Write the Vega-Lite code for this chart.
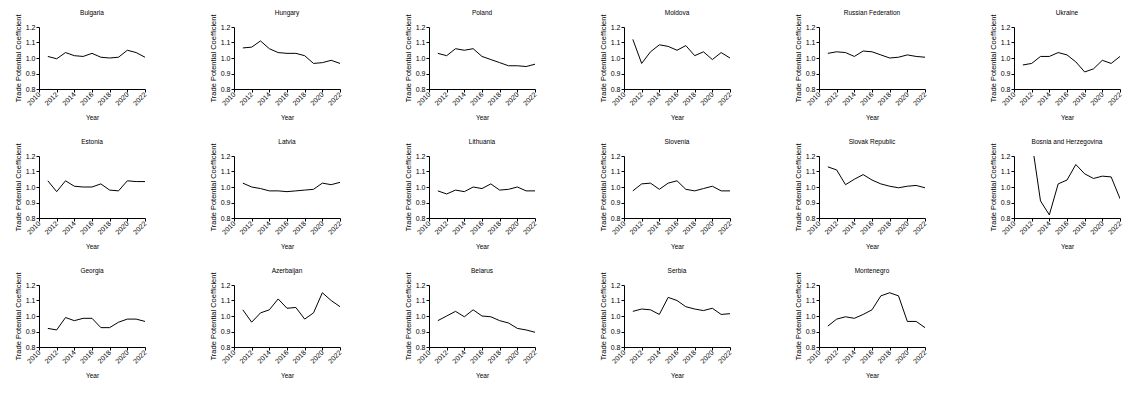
{
  "$schema": "https://vega.github.io/schema/vega-lite/v6.json",
  "padding": {"left": 14, "top": 9, "right": 5, "bottom": 5},
  "background": "white",
  "datasets": {
    "d": [
      {"country": "Bulgaria", "year": 2011, "v": 1.01}, {"country": "Bulgaria", "year": 2012, "v": 0.995}, {"country": "Bulgaria", "year": 2013, "v": 1.035}, {"country": "Bulgaria", "year": 2014, "v": 1.015}, {"country": "Bulgaria", "year": 2015, "v": 1.01}, {"country": "Bulgaria", "year": 2016, "v": 1.03}, {"country": "Bulgaria", "year": 2017, "v": 1.005}, {"country": "Bulgaria", "year": 2018, "v": 1.0}, {"country": "Bulgaria", "year": 2019, "v": 1.005}, {"country": "Bulgaria", "year": 2020, "v": 1.05}, {"country": "Bulgaria", "year": 2021, "v": 1.035}, {"country": "Bulgaria", "year": 2022, "v": 1.005},
      {"country": "Hungary", "year": 2011, "v": 1.065}, {"country": "Hungary", "year": 2012, "v": 1.07}, {"country": "Hungary", "year": 2013, "v": 1.11}, {"country": "Hungary", "year": 2014, "v": 1.06}, {"country": "Hungary", "year": 2015, "v": 1.035}, {"country": "Hungary", "year": 2016, "v": 1.03}, {"country": "Hungary", "year": 2017, "v": 1.03}, {"country": "Hungary", "year": 2018, "v": 1.015}, {"country": "Hungary", "year": 2019, "v": 0.965}, {"country": "Hungary", "year": 2020, "v": 0.97}, {"country": "Hungary", "year": 2021, "v": 0.985}, {"country": "Hungary", "year": 2022, "v": 0.965},
      {"country": "Poland", "year": 2011, "v": 1.03}, {"country": "Poland", "year": 2012, "v": 1.015}, {"country": "Poland", "year": 2013, "v": 1.06}, {"country": "Poland", "year": 2014, "v": 1.05}, {"country": "Poland", "year": 2015, "v": 1.06}, {"country": "Poland", "year": 2016, "v": 1.01}, {"country": "Poland", "year": 2017, "v": 0.99}, {"country": "Poland", "year": 2018, "v": 0.97}, {"country": "Poland", "year": 2019, "v": 0.95}, {"country": "Poland", "year": 2020, "v": 0.95}, {"country": "Poland", "year": 2021, "v": 0.945}, {"country": "Poland", "year": 2022, "v": 0.96},
      {"country": "Moldova", "year": 2011, "v": 1.12}, {"country": "Moldova", "year": 2012, "v": 0.965}, {"country": "Moldova", "year": 2013, "v": 1.04}, {"country": "Moldova", "year": 2014, "v": 1.085}, {"country": "Moldova", "year": 2015, "v": 1.075}, {"country": "Moldova", "year": 2016, "v": 1.05}, {"country": "Moldova", "year": 2017, "v": 1.08}, {"country": "Moldova", "year": 2018, "v": 1.015}, {"country": "Moldova", "year": 2019, "v": 1.04}, {"country": "Moldova", "year": 2020, "v": 0.99}, {"country": "Moldova", "year": 2021, "v": 1.035}, {"country": "Moldova", "year": 2022, "v": 1.0},
      {"country": "Russian Federation", "year": 2011, "v": 1.03}, {"country": "Russian Federation", "year": 2012, "v": 1.04}, {"country": "Russian Federation", "year": 2013, "v": 1.035}, {"country": "Russian Federation", "year": 2014, "v": 1.01}, {"country": "Russian Federation", "year": 2015, "v": 1.045}, {"country": "Russian Federation", "year": 2016, "v": 1.04}, {"country": "Russian Federation", "year": 2017, "v": 1.02}, {"country": "Russian Federation", "year": 2018, "v": 1.0}, {"country": "Russian Federation", "year": 2019, "v": 1.005}, {"country": "Russian Federation", "year": 2020, "v": 1.02}, {"country": "Russian Federation", "year": 2021, "v": 1.01}, {"country": "Russian Federation", "year": 2022, "v": 1.005},
      {"country": "Ukraine", "year": 2011, "v": 0.955}, {"country": "Ukraine", "year": 2012, "v": 0.965}, {"country": "Ukraine", "year": 2013, "v": 1.01}, {"country": "Ukraine", "year": 2014, "v": 1.01}, {"country": "Ukraine", "year": 2015, "v": 1.035}, {"country": "Ukraine", "year": 2016, "v": 1.02}, {"country": "Ukraine", "year": 2017, "v": 0.975}, {"country": "Ukraine", "year": 2018, "v": 0.91}, {"country": "Ukraine", "year": 2019, "v": 0.93}, {"country": "Ukraine", "year": 2020, "v": 0.985}, {"country": "Ukraine", "year": 2021, "v": 0.965}, {"country": "Ukraine", "year": 2022, "v": 1.01},
      {"country": "Estonia", "year": 2011, "v": 1.04}, {"country": "Estonia", "year": 2012, "v": 0.97}, {"country": "Estonia", "year": 2013, "v": 1.04}, {"country": "Estonia", "year": 2014, "v": 1.005}, {"country": "Estonia", "year": 2015, "v": 1.0}, {"country": "Estonia", "year": 2016, "v": 1.0}, {"country": "Estonia", "year": 2017, "v": 1.02}, {"country": "Estonia", "year": 2018, "v": 0.98}, {"country": "Estonia", "year": 2019, "v": 0.975}, {"country": "Estonia", "year": 2020, "v": 1.04}, {"country": "Estonia", "year": 2021, "v": 1.035}, {"country": "Estonia", "year": 2022, "v": 1.035},
      {"country": "Latvia", "year": 2011, "v": 1.025}, {"country": "Latvia", "year": 2012, "v": 1.0}, {"country": "Latvia", "year": 2013, "v": 0.99}, {"country": "Latvia", "year": 2014, "v": 0.975}, {"country": "Latvia", "year": 2015, "v": 0.975}, {"country": "Latvia", "year": 2016, "v": 0.97}, {"country": "Latvia", "year": 2017, "v": 0.975}, {"country": "Latvia", "year": 2018, "v": 0.98}, {"country": "Latvia", "year": 2019, "v": 0.985}, {"country": "Latvia", "year": 2020, "v": 1.025}, {"country": "Latvia", "year": 2021, "v": 1.015}, {"country": "Latvia", "year": 2022, "v": 1.03},
      {"country": "Lithuania", "year": 2011, "v": 0.975}, {"country": "Lithuania", "year": 2012, "v": 0.955}, {"country": "Lithuania", "year": 2013, "v": 0.98}, {"country": "Lithuania", "year": 2014, "v": 0.97}, {"country": "Lithuania", "year": 2015, "v": 1.0}, {"country": "Lithuania", "year": 2016, "v": 0.99}, {"country": "Lithuania", "year": 2017, "v": 1.02}, {"country": "Lithuania", "year": 2018, "v": 0.98}, {"country": "Lithuania", "year": 2019, "v": 0.985}, {"country": "Lithuania", "year": 2020, "v": 1.0}, {"country": "Lithuania", "year": 2021, "v": 0.975}, {"country": "Lithuania", "year": 2022, "v": 0.975},
      {"country": "Slovenia", "year": 2011, "v": 0.975}, {"country": "Slovenia", "year": 2012, "v": 1.02}, {"country": "Slovenia", "year": 2013, "v": 1.025}, {"country": "Slovenia", "year": 2014, "v": 0.985}, {"country": "Slovenia", "year": 2015, "v": 1.025}, {"country": "Slovenia", "year": 2016, "v": 1.04}, {"country": "Slovenia", "year": 2017, "v": 0.985}, {"country": "Slovenia", "year": 2018, "v": 0.975}, {"country": "Slovenia", "year": 2019, "v": 0.99}, {"country": "Slovenia", "year": 2020, "v": 1.005}, {"country": "Slovenia", "year": 2021, "v": 0.975}, {"country": "Slovenia", "year": 2022, "v": 0.975},
      {"country": "Slovak Republic", "year": 2011, "v": 1.13}, {"country": "Slovak Republic", "year": 2012, "v": 1.11}, {"country": "Slovak Republic", "year": 2013, "v": 1.015}, {"country": "Slovak Republic", "year": 2014, "v": 1.05}, {"country": "Slovak Republic", "year": 2015, "v": 1.08}, {"country": "Slovak Republic", "year": 2016, "v": 1.045}, {"country": "Slovak Republic", "year": 2017, "v": 1.02}, {"country": "Slovak Republic", "year": 2018, "v": 1.005}, {"country": "Slovak Republic", "year": 2019, "v": 0.995}, {"country": "Slovak Republic", "year": 2020, "v": 1.005}, {"country": "Slovak Republic", "year": 2021, "v": 1.01}, {"country": "Slovak Republic", "year": 2022, "v": 0.995},
      {"country": "Bosnia and Herzegovina", "year": 2011, "v": 1.32}, {"country": "Bosnia and Herzegovina", "year": 2012, "v": 1.3}, {"country": "Bosnia and Herzegovina", "year": 2013, "v": 0.91}, {"country": "Bosnia and Herzegovina", "year": 2014, "v": 0.82}, {"country": "Bosnia and Herzegovina", "year": 2015, "v": 1.02}, {"country": "Bosnia and Herzegovina", "year": 2016, "v": 1.045}, {"country": "Bosnia and Herzegovina", "year": 2017, "v": 1.145}, {"country": "Bosnia and Herzegovina", "year": 2018, "v": 1.085}, {"country": "Bosnia and Herzegovina", "year": 2019, "v": 1.055}, {"country": "Bosnia and Herzegovina", "year": 2020, "v": 1.07}, {"country": "Bosnia and Herzegovina", "year": 2021, "v": 1.065}, {"country": "Bosnia and Herzegovina", "year": 2022, "v": 0.925},
      {"country": "Georgia", "year": 2011, "v": 0.92}, {"country": "Georgia", "year": 2012, "v": 0.91}, {"country": "Georgia", "year": 2013, "v": 0.99}, {"country": "Georgia", "year": 2014, "v": 0.97}, {"country": "Georgia", "year": 2015, "v": 0.985}, {"country": "Georgia", "year": 2016, "v": 0.985}, {"country": "Georgia", "year": 2017, "v": 0.925}, {"country": "Georgia", "year": 2018, "v": 0.925}, {"country": "Georgia", "year": 2019, "v": 0.96}, {"country": "Georgia", "year": 2020, "v": 0.98}, {"country": "Georgia", "year": 2021, "v": 0.98}, {"country": "Georgia", "year": 2022, "v": 0.965},
      {"country": "Azerbaijan", "year": 2011, "v": 1.04}, {"country": "Azerbaijan", "year": 2012, "v": 0.96}, {"country": "Azerbaijan", "year": 2013, "v": 1.02}, {"country": "Azerbaijan", "year": 2014, "v": 1.04}, {"country": "Azerbaijan", "year": 2015, "v": 1.11}, {"country": "Azerbaijan", "year": 2016, "v": 1.05}, {"country": "Azerbaijan", "year": 2017, "v": 1.055}, {"country": "Azerbaijan", "year": 2018, "v": 0.98}, {"country": "Azerbaijan", "year": 2019, "v": 1.02}, {"country": "Azerbaijan", "year": 2020, "v": 1.15}, {"country": "Azerbaijan", "year": 2021, "v": 1.1}, {"country": "Azerbaijan", "year": 2022, "v": 1.06},
      {"country": "Belarus", "year": 2011, "v": 0.97}, {"country": "Belarus", "year": 2012, "v": 1.0}, {"country": "Belarus", "year": 2013, "v": 1.03}, {"country": "Belarus", "year": 2014, "v": 0.995}, {"country": "Belarus", "year": 2015, "v": 1.04}, {"country": "Belarus", "year": 2016, "v": 1.0}, {"country": "Belarus", "year": 2017, "v": 0.995}, {"country": "Belarus", "year": 2018, "v": 0.97}, {"country": "Belarus", "year": 2019, "v": 0.955}, {"country": "Belarus", "year": 2020, "v": 0.92}, {"country": "Belarus", "year": 2021, "v": 0.91}, {"country": "Belarus", "year": 2022, "v": 0.895},
      {"country": "Serbia", "year": 2011, "v": 1.03}, {"country": "Serbia", "year": 2012, "v": 1.045}, {"country": "Serbia", "year": 2013, "v": 1.04}, {"country": "Serbia", "year": 2014, "v": 1.01}, {"country": "Serbia", "year": 2015, "v": 1.12}, {"country": "Serbia", "year": 2016, "v": 1.1}, {"country": "Serbia", "year": 2017, "v": 1.06}, {"country": "Serbia", "year": 2018, "v": 1.045}, {"country": "Serbia", "year": 2019, "v": 1.035}, {"country": "Serbia", "year": 2020, "v": 1.05}, {"country": "Serbia", "year": 2021, "v": 1.01}, {"country": "Serbia", "year": 2022, "v": 1.015},
      {"country": "Montenegro", "year": 2011, "v": 0.935}, {"country": "Montenegro", "year": 2012, "v": 0.98}, {"country": "Montenegro", "year": 2013, "v": 0.995}, {"country": "Montenegro", "year": 2014, "v": 0.985}, {"country": "Montenegro", "year": 2015, "v": 1.01}, {"country": "Montenegro", "year": 2016, "v": 1.04}, {"country": "Montenegro", "year": 2017, "v": 1.13}, {"country": "Montenegro", "year": 2018, "v": 1.15}, {"country": "Montenegro", "year": 2019, "v": 1.13}, {"country": "Montenegro", "year": 2020, "v": 0.965}, {"country": "Montenegro", "year": 2021, "v": 0.965}, {"country": "Montenegro", "year": 2022, "v": 0.925}
    ]
  },
  "data": {"name": "d"},
  "columns": 6,
  "spacing": {"column": 61, "row": 17},
  "facet": {
    "field": "country",
    "type": "nominal",
    "sort": ["Bulgaria", "Hungary", "Poland", "Moldova", "Russian Federation", "Ukraine", "Estonia", "Latvia", "Lithuania", "Slovenia", "Slovak Republic", "Bosnia and Herzegovina", "Georgia", "Azerbaijan", "Belarus", "Serbia", "Montenegro"],
    "header": {"title": null, "labelFont": "Liberation Sans", "labelFontSize": 6.5, "labelColor": "black", "labelPadding": -2}
  },
  "spec": {
    "width": 106,
    "height": 62,
    "mark": {"type": "line", "color": "black", "strokeWidth": 1, "clip": true},
    "encoding": {
      "x": {
        "field": "year", "type": "quantitative",
        "scale": {"domain": [2010, 2022], "nice": false, "zero": false},
        "axis": {"title": "Year", "values": [2010, 2012, 2014, 2016, 2018, 2020, 2022], "format": "d", "labelAngle": -45, "labelAlign": "right", "labelBaseline": "middle", "titlePadding": 8, "titleFontSize": 6.5}
      },
      "y": {
        "field": "v", "type": "quantitative",
        "scale": {"domain": [0.8, 1.2], "nice": false, "zero": false},
        "axis": {"title": "Trade Potential Coefficient", "values": [0.8, 0.9, 1.0, 1.1, 1.2], "format": ".1f", "titlePadding": 3, "titleFontSize": 7.5}
      }
    }
  },
  "resolve": {"axis": {"x": "independent", "y": "independent"}},
  "config": {
    "view": {"stroke": null},
    "font": "Liberation Sans",
    "axis": {
      "grid": false,
      "domainColor": "black",
      "tickColor": "black",
      "labelColor": "black",
      "titleColor": "black",
      "labelFont": "Liberation Sans",
      "titleFont": "Liberation Sans",
      "labelFontSize": 7,
      "titleFontWeight": "normal",
      "tickSize": 3,
      "labelPadding": 1
    }
  }
}
